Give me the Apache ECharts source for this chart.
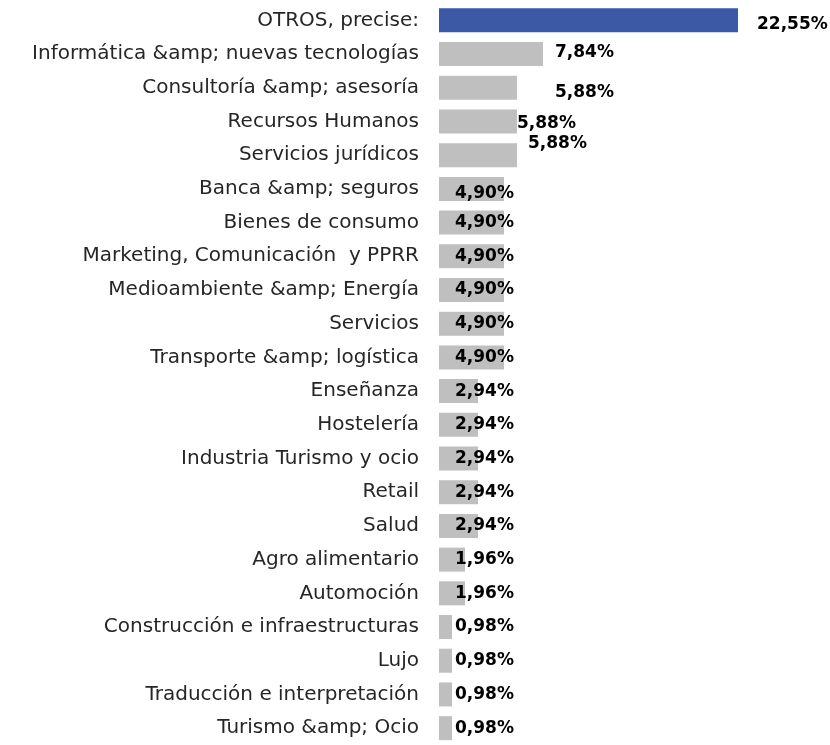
<!DOCTYPE html>
<html>
<head>
<meta charset="utf-8">
<script src="https://cdn.jsdelivr.net/npm/echarts@6/dist/echarts.min.js"></script>
<style>
  html, body { margin: 0; padding: 0; background: #fff; }
  #chart { width: 830px; height: 745px; }
</style>
</head>
<body>
<div id="chart"></div>
<script>
const categories = [
  'OTROS, precise:',
  'Informática &amp; nuevas tecnologías',
  'Consultoría &amp; asesoría',
  'Recursos Humanos',
  'Servicios jurídicos',
  'Banca &amp; seguros',
  'Bienes de consumo',
  'Marketing, Comunicación  y PPRR',
  'Medioambiente &amp; Energía',
  'Servicios',
  'Transporte &amp; logística',
  'Enseñanza',
  'Hostelería',
  'Industria Turismo y ocio',
  'Retail',
  'Salud',
  'Agro alimentario',
  'Automoción',
  'Construcción e infraestructuras',
  'Lujo',
  'Traducción e interpretación',
  'Turismo &amp; Ocio'
]
const values = [22.55, 7.84, 5.88, 5.88, 5.88, 4.90, 4.90, 4.90, 4.90, 4.90, 4.90,
  2.94, 2.94, 2.94, 2.94, 2.94, 1.96, 1.96, 0.98, 0.98, 0.98, 0.98]

// label placement (px from bar start, px from bar centre) - the labels were hand placed in the original
const labelNudge = [[318, 4.5], [116, -1], [116, 5], [78, 2], [89, -11.5], [16, 4.5]]
const barH = 24

let chart = echarts.init(document.getElementById('chart'))

let data = values.map((v, i) => {
  let n = labelNudge[i] || [16, 0]
  return {
    value: v,
    itemStyle: { color: i === 0 ? '#3b59a5' : '#bfbfbf' },
    label: { position: [n[0], barH / 2 + n[1]] }
  }
})

chart.setOption({
  animation: false,
  grid: { left: 439, top: 3.5, width: 13.26 * 25, height: 34 * 22, containLabel: false },
  xAxis: { type: 'value', min: 0, max: 25, show: false },
  yAxis: {
    type: 'category',
    inverse: true,
    data: categories,
    axisLine: { show: false },
    axisTick: { show: false },
    axisLabel: {
      margin: 20,
      color: '#262626',
      fontFamily: 'DejaVu Sans',
      fontSize: 20
    }
  },
  series: [{
    type: 'bar',
    data: data,
    barWidth: barH,
    label: {
      show: true,
      align: 'left',
      verticalAlign: 'middle',
      color: '#000',
      fontFamily: 'DejaVu Sans',
      fontWeight: 'bold',
      fontSize: 17,
      formatter: p => p.value.toFixed(2).replace('.', ',') + '%'
    }
  }]
})
</script>
</body>
</html>
